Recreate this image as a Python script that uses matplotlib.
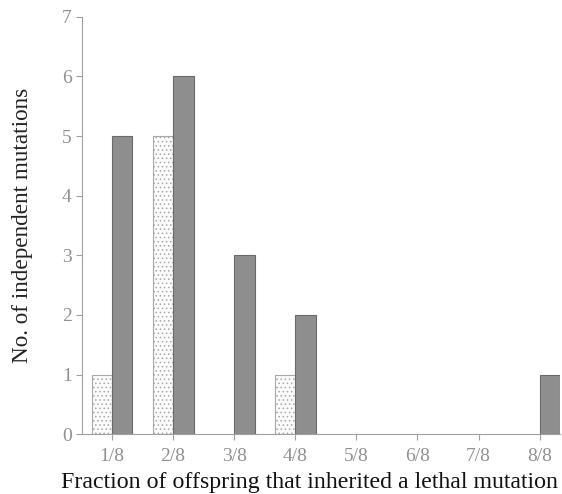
import numpy as np
import matplotlib.pyplot as plt

plt.rcParams['font.family'] = ['Liberation Serif', 'DejaVu Serif']
plt.rcParams['hatch.color'] = '#c8c8c8'
plt.rcParams['hatch.linewidth'] = 0.6

# data
fractions = ['1/8', '2/8', '3/8', '4/8', '5/8', '6/8', '7/8', '8/8']
light_counts = [1, 5, 0, 1, 0, 0, 0, 0]
dark_counts = [5, 6, 3, 2, 0, 0, 0, 1]

x = np.arange(1, len(fractions) + 1)
width = 0.335

fig = plt.figure(figsize=(5.62, 4.94), dpi=100)
ax = fig.add_axes([0.146, 0.121, 0.85, 0.845])

# light (dotted) bars to the left of each tick, dark bars to the right
light = np.array(light_counts)
dark = np.array(dark_counts)
ax.bar((x - width / 2)[light > 0], light[light > 0], width, facecolor='#fbfbfb',
       edgecolor='#a8a8a8', linewidth=0.8, hatch='....')
ax.bar((x + width / 2)[dark > 0], dark[dark > 0], width, facecolor='#8e8e8e',
       edgecolor='#6a6a6a', linewidth=0.8)

ax.set_xlim(0.51, 8.33)
ax.set_ylim(0, 7)
ax.set_xticks(x)
ax.set_xticklabels(fractions)
ax.set_yticks(range(0, 8))

for side in ['top', 'right']:
    ax.spines[side].set_visible(False)
for side in ['left', 'bottom']:
    ax.spines[side].set_color('#a0a0a0')
    ax.spines[side].set_linewidth(0.8)

ax.tick_params(axis='both', colors='#a0a0a0', labelcolor='#909090', labelsize=14,
               length=4, width=0.8)
ax.tick_params(axis='x', pad=6)

# x label sits a bit left of the axes centre in the reference
fig.text(0.5516, 0.0223, 'Fraction of offspring that inherited a lethal mutation',
         fontsize=17.2, color='#111111', ha='center', va='center')
ax.set_ylabel('No. of independent mutations', fontsize=16.7, color='#222222', labelpad=21)

fig.savefig('out.png', dpi=100)
